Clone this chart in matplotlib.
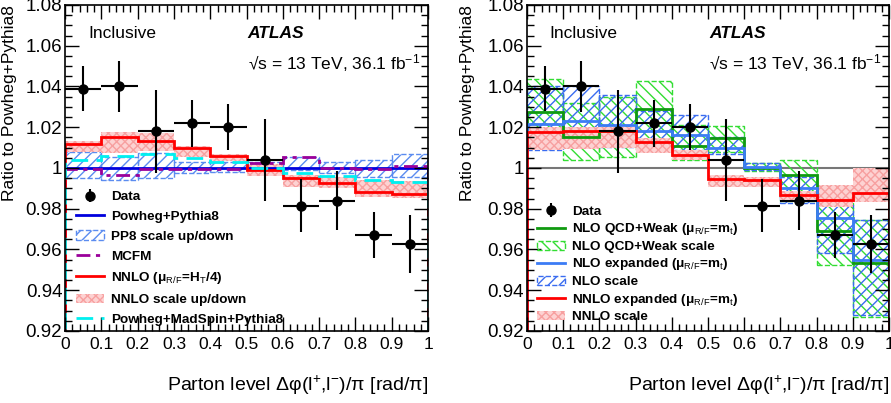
import numpy as np
import matplotlib
matplotlib.use("Agg")
import matplotlib.pyplot as plt
from matplotlib.ticker import MultipleLocator, FuncFormatter

plt.rcParams['font.family'] = ['Liberation Sans', 'DejaVu Sans']
plt.rcParams['mathtext.fontset'] = 'custom'
plt.rcParams['mathtext.rm'] = 'Liberation Sans'
plt.rcParams['mathtext.it'] = 'Liberation Sans:italic'
plt.rcParams['mathtext.bf'] = 'Liberation Sans:bold'
plt.rcParams['hatch.linewidth'] = 1.0

# bins of delta phi / pi
bin_edges = [0.0, 0.1, 0.2, 0.3, 0.4, 0.5, 0.6, 0.7, 0.8, 0.9, 1.0]

# data
data = [1.039, 1.040, 1.018, 1.022, 1.020, 1.004, 0.9815, 0.984, 0.967, 0.9627]
data_err = [0.011, 0.0123, 0.0203, 0.0115, 0.0113, 0.020, 0.0131, 0.0145, 0.0113, 0.014]

# left panel predictions
pp8 = [1.0] * 10
pp8_lo = [0.995, 0.994, 0.995, 0.9974, 0.998, 0.9995, 0.999, 0.9974, 0.9957, 0.9957]
pp8_hi = [1.008, 1.0055, 1.0072, 1.003, 1.003, 1.003, 1.0055, 1.003, 1.004, 1.0069]
mcfm = [0.9994, 0.9966, 0.9995, 0.9994, 0.9994, 1.0023, 1.0052, 1.0, 0.9995, 1.0011]
nnlo = [1.0116, 1.015, 1.0134, 1.0097, 1.006, 0.999, 0.995, 0.9925, 0.9884, 0.9873]
nnlo_lo = [1.0078, 1.0075, 1.0085, 1.0055, 1.0035, 0.996, 0.9908, 0.990, 0.986, 0.9855]
nnlo_hi = [1.0134, 1.0175, 1.0172, 1.0108, 1.0069, 1.0022, 0.9966, 0.9957, 0.9941, 0.9935]
madspin = [1.0039, 1.006, 1.0069, 1.0047, 1.0031, 1.0, 0.9974, 0.9961, 0.9941, 0.993]

# right panel predictions
nlo_ew = [1.0274, 1.015, 1.0183, 1.029, 1.011, 1.0148, 1.0, 0.9966, 0.969, 0.9533]
nlo_ew_lo = [1.012, 1.004, 1.0055, 1.0101, 1.004, 1.008, 0.9985, 0.9838, 0.9525, 0.9271]
nlo_ew_hi = [1.0435, 1.032, 1.035, 1.0428, 1.021, 1.0206, 1.0025, 1.0039, 0.9827, 0.9745]
nlo = [1.0216, 1.023, 1.0211, 1.0181, 1.0162, 1.0098, 1.0006, 0.9904, 0.9753, 0.9549]
nlo_lo = [1.0088, 1.011, 1.0103, 1.012, 1.0088, 1.0068, 0.999, 0.9828, 0.9582, 0.928]
nlo_hi = [1.040, 1.040, 1.0358, 1.028, 1.026, 1.015, 1.0023, 0.9955, 0.9819, 0.9745]
nnlo_exp = [1.0178, 1.018, 1.018, 1.0129, 1.0064, 0.9945, 0.994, 0.9868, 0.9843, 0.9879]
nnlo_exp_lo = [1.0088, 1.0095, 1.010, 1.0072, 1.0039, 0.9908, 0.9908, 0.9835, 0.981, 0.9835]
nnlo_exp_hi = [1.0203, 1.0203, 1.0203, 1.0146, 1.0088, 0.9966, 0.9957, 0.9887, 0.9917, 1.0]

edges = np.array(bin_edges)
centers = 0.5 * (edges[1:] + edges[:-1])
widths = np.diff(edges)

MU = 'μ$_{\\rm R/F}$'


def band(ax, lo, hi, **kw):
    lo = np.array(lo); hi = np.array(hi)
    return ax.bar(centers, hi - lo, bottom=lo, width=widths, **kw)


def pink_band(ax, lo, hi, label):
    return band(ax, lo, hi, facecolor='#fdd2d2', edgecolor='#f7a0a0', hatch='xxxx',
                linewidth=0, label=label)


def draw_data(ax):
    ax.errorbar(centers, data, xerr=widths / 2, fmt='none', ecolor='black', elinewidth=1.5, zorder=10)
    ax.errorbar(centers, data, yerr=data_err, fmt='o', color='black', ms=6.5,
                elinewidth=1.5, zorder=11, label='Data')


def style(ax, ylab_x):
    ax.set_xlim(0, 1)
    ax.set_ylim(0.92, 1.08)
    ax.xaxis.set_major_locator(MultipleLocator(0.1))
    ax.xaxis.set_minor_locator(MultipleLocator(0.02))
    ax.yaxis.set_major_locator(MultipleLocator(0.02))
    ax.yaxis.set_minor_locator(MultipleLocator(0.005))
    fmt = FuncFormatter(lambda v, p: '%g' % round(v, 3))
    ax.xaxis.set_major_formatter(fmt)
    ax.yaxis.set_major_formatter(fmt)
    ax.tick_params(which='both', direction='in', top=True, right=True)
    ax.tick_params(which='major', length=10, width=1)
    ax.tick_params(which='minor', length=5, width=1)
    ax.tick_params(axis='y', labelsize=13.5, pad=2)
    ax.tick_params(axis='x', labelsize=12.5, pad=4)
    for s in ax.spines.values():
        s.set_linewidth(1.2)
    xl = ax.set_xlabel('Parton level Δφ(l$^{+}$,l$^{-}$)/π [rad/π]', fontsize=14, ha='right', va='center')
    ax.xaxis.set_label_coords(1.0, -0.166)
    ax.set_ylabel('Ratio to Powheg+Pythia8', fontsize=12.5, loc='top')
    ax.yaxis.set_label_coords(ylab_x, 1.0)
    ax.text(0.063, 0.914, 'Inclusive', transform=ax.transAxes, fontsize=12.5, va='center')
    ax.text(0.503, 0.914, 'ATLAS', transform=ax.transAxes, fontsize=12.5, va='center',
            fontweight='bold', fontstyle='italic')
    ax.text(0.503, 0.822, '\u221as = 13 TeV, 36.1 fb$^{-1}$', transform=ax.transAxes,
            fontsize=12.5, va='center')


fig = plt.figure(figsize=(8.91, 4.03), dpi=100)
ax1 = fig.add_axes([0.073, 0.1787, 0.4074, 0.8089])
ax2 = fig.add_axes([0.5915, 0.1787, 0.4063, 0.8089])

# left panel
lab_nnlo = 'NNLO (' + MU + '=H$_{\\rm T}$/4)'
band(ax1, pp8_lo, pp8_hi, facecolor='none', edgecolor='#5b8cf0', hatch='///',
     linewidth=1, linestyle='--', label='PP8 scale up/down')
pink_band(ax1, nnlo_lo, nnlo_hi, 'NNLO scale up/down')
ax1.stairs(pp8, edges, color='#0000dd', lw=2, label='Powheg+Pythia8')
ax1.stairs(mcfm, edges, color='#9a009a', lw=2, linestyle=(0, (5, 2, 1.5, 2)), label='MCFM')
ax1.stairs(nnlo, edges, color='#ff0000', lw=2, label=lab_nnlo)
ax1.stairs(madspin, edges, color='#00f0f0', lw=2, linestyle=(0, (6, 3)), label='Powheg+MadSpin+Pythia8')
draw_data(ax1)
style(ax1, -0.132)

h, l = ax1.get_legend_handles_labels()
order = ['Data', 'Powheg+Pythia8', 'PP8 scale up/down', 'MCFM',
         lab_nnlo, 'NNLO scale up/down', 'Powheg+MadSpin+Pythia8']
hd = dict(zip(l, h))
ax1.legend([hd[k] for k in order], order, loc='upper left', bbox_to_anchor=(0.03, 0.43),
           frameon=False, borderpad=0, borderaxespad=0, handlelength=2.1, handletextpad=0.5,
           labelspacing=0.55, prop={'weight': 'bold', 'size': 9.7})

# right panel
lab_ew = 'NLO QCD+Weak (' + MU + '=m$_{\\rm t}$)'
lab_nlo = 'NLO expanded (' + MU + '=m$_{\\rm t}$)'
lab_nnlo2 = 'NNLO expanded (' + MU + '=m$_{\\rm t}$)'
ax2.axhline(1.0, color='#777777', lw=1.5, zorder=1)
band(ax2, nlo_ew_lo, nlo_ew_hi, facecolor='none', edgecolor='#33dd33', hatch='\\\\\\',
     linewidth=1, linestyle='--', label='NLO QCD+Weak scale')
band(ax2, nlo_lo, nlo_hi, facecolor='none', edgecolor='#3a6cf0', hatch='///',
     linewidth=1, linestyle='--', label='NLO scale')
pink_band(ax2, nnlo_exp_lo, nnlo_exp_hi, 'NNLO scale')
ax2.stairs(nlo_ew, edges, color='#109a10', lw=2, label=lab_ew)
ax2.stairs(nlo, edges, color='#3c7cf5', lw=2, label=lab_nlo)
ax2.stairs(nnlo_exp, edges, color='#ff0000', lw=2, label=lab_nnlo2)
draw_data(ax2)
style(ax2, -0.144)

h, l = ax2.get_legend_handles_labels()
order = ['Data', lab_ew, 'NLO QCD+Weak scale', lab_nlo, 'NLO scale', lab_nnlo2, 'NNLO scale']
hd = dict(zip(l, h))
ax2.legend([hd[k] for k in order], order, loc='upper left', bbox_to_anchor=(0.028, 0.385),
           frameon=False, borderpad=0, borderaxespad=0, handlelength=2.1, handletextpad=0.5,
           labelspacing=0.25, prop={'weight': 'bold', 'size': 9.7})

fig.savefig('out.png', dpi=100)
